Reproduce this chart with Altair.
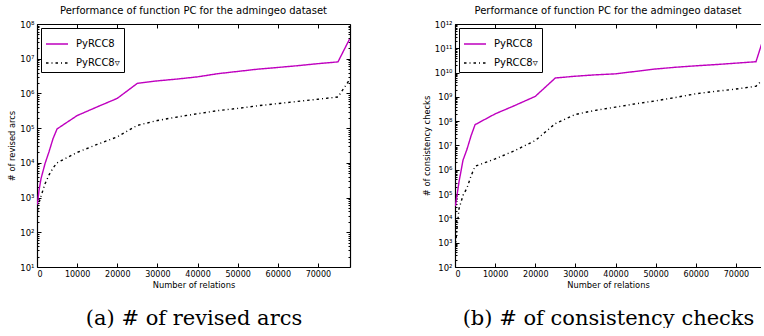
import altair as alt
import pandas as pd

# Number of relations at which function PC was measured
relations = [100, 500, 1000, 2000, 3000, 4000, 5000, 10000, 15000, 20000, 25000,
             30000, 35000, 40000, 45000, 50000, 55000, 60000, 65000, 70000, 75000, 77900]

# Revised arcs
arcs_pyrcc8 = [630, 1600, 3500, 9500, 21000, 50000, 95000, 230000, 410000, 720000,
               1950000, 2300000, 2600000, 3000000, 3700000, 4300000, 5000000,
               5600000, 6300000, 7200000, 8100000, 37000000]
arcs_nabla = [400, 710, 1100, 2500, 4500, 7100, 10000, 20000, 34000, 56000, 120000,
              166000, 210000, 260000, 320000, 370000, 440000, 510000, 590000,
              680000, 790000, 2500000]

# Consistency checks
checks_pyrcc8 = [32000, 89000, 320000, 2500000, 7100000, 25000000, 72000000, 2.0e8,
                 4.5e8, 1.05e9, 6.0e9, 7.1e9, 8.1e9, 8.9e9, 1.12e10, 1.41e10, 1.66e10,
                 1.9e10, 2.14e10, 2.45e10, 2.8e10, 8.9e11]
checks_nabla = [630, 4000, 25000, 89000, 180000, 560000, 1400000, 2800000, 6300000,
                1.6e7, 8.0e7, 1.9e8, 2.8e8, 3.8e8, 5.2e8, 6.9e8, 9.5e8, 1.35e9, 1.7e9,
                2.1e9, 2.75e9, 7.9e9]

series_names = ["PyRCC8", "PyRCC8\u25bf"]
series_colors = ["#bf00bf", "black"]
series_dashes = [[1, 0], [2.5, 3, 1, 3]]

TITLE = "Performance of function PC for the admingeo dataset"
SANS = "DejaVu Sans"
SERIF = "DejaVu Serif"

SUP = "['\u2070','\u00b9','\u00b2','\u00b3','\u2074','\u2075','\u2076','\u2077','\u2078','\u2079','\u00b9\u2070','\u00b9\u00b9','\u00b9\u00b2']"
LABEL_EXPR = "'10' + " + SUP + "[round(log(datum.value) / LN10)]"


def tick_axis(orient, values, size):
    # inward-pointing ticks: axis pulled inside the frame by the tick length
    return alt.Axis(orient=orient, values=values, labels=False, domain=False,
                    ticks=True, tickSize=size, tickColor="black", tickWidth=1,
                    offset=-size, title=None, grid=False)


def frame_axis(orient):
    return alt.Axis(orient=orient, labels=False, ticks=False, domain=True,
                    domainColor="black", domainWidth=1.2, title=None, grid=False)


def panel(values_a, values_b, e_min, e_max, y_title, caption, x_max, width, right_side):
    n = len(relations)
    df = pd.DataFrame({
        "relations": relations * 2,
        "count": values_a + values_b,
        "series": [series_names[0]] * n + [series_names[1]] * n,
    })
    xs = alt.Scale(domain=[0, x_max], nice=False, zero=False)
    ys = alt.Scale(type="log", domain=[10 ** e_min, 10 ** e_max], nice=False)
    decades = [10 ** k for k in range(e_min, e_max + 1)]
    minors = [m * 10 ** k for k in range(e_min, e_max) for m in range(2, 10)]
    xticks = [v for v in range(0, 80000, 10000) if v <= x_max]

    base = alt.Chart(df)

    def X(axis):
        return alt.X("relations:Q", scale=xs, axis=axis)

    def Y(axis):
        return alt.Y("count:Q", scale=ys, axis=axis)

    legend = alt.Legend(title=None, orient="top-left", offset=4, fillColor="white",
                        strokeColor="black", padding=4, cornerRadius=0,
                        labelFont=SANS, labelFontSize=10, labelColor="black",
                        symbolType="stroke", symbolSize=484, symbolStrokeWidth=1.5,
                        labelOffset=7, rowPadding=2)

    lines = base.mark_line(clip=True, strokeWidth=1.4).encode(
        x=X(alt.Axis(values=xticks, format="d", title="Number of relations",
                     domain=True, domainColor="black", domainWidth=1.2, ticks=False,
                     labelPadding=3, titlePadding=2, grid=False)),
        y=Y(alt.Axis(values=decades, labelExpr=LABEL_EXPR, title=y_title,
                     labelFontSize=8.5, domain=True, domainColor="black",
                     domainWidth=1.2, ticks=False, labelPadding=3, titlePadding=3,
                     grid=False)),
        color=alt.Color("series:N", scale=alt.Scale(domain=series_names, range=series_colors),
                        legend=legend),
        strokeDash=alt.StrokeDash("series:N", scale=alt.Scale(domain=series_names, range=series_dashes),
                                  legend=legend),
    )

    ghost = base.mark_line(clip=True, opacity=0)
    layers = [
        lines,
        ghost.encode(x=X(frame_axis("top")),
                     y=Y(frame_axis("right") if right_side else None)),
        ghost.encode(x=X(tick_axis("top", xticks, 4)),
                     y=Y(tick_axis("right", decades, 4) if right_side else None)),
        ghost.encode(x=X(tick_axis("bottom", xticks, 4)),
                     y=Y(tick_axis("left", decades, 4))),
        ghost.encode(x=X(alt.Axis(orient="bottom", labels=False, ticks=False, domain=False,
                                  grid=False, title=caption, titleFont=SERIF,
                                  titleFontSize=21, titleFontWeight="normal",
                                  titlePadding=40)),
                     y=Y(tick_axis("left", minors, 2))),
    ]
    if right_side:
        layers.append(ghost.encode(x=X(None), y=Y(tick_axis("right", minors, 2))))

    return alt.layer(*layers).resolve_axis(x="independent", y="independent").properties(
        width=width, height=243,
        title=alt.TitleParams(TITLE, font=SANS, fontSize=10, fontWeight="normal",
                              color="black", anchor="middle", offset=4),
    )


left = panel(arcs_pyrcc8, arcs_nabla, 1, 8, "# of revised arcs",
             "(a) # of revised arcs", 78000, 313, True)
right = panel(checks_pyrcc8, checks_nabla, 2, 12, "# of consistency checks",
              "(b) # of consistency checks", 76250, 306, False)

chart = alt.hconcat(left, right, spacing=71).resolve_scale(
    color="independent", strokeDash="independent"
).resolve_legend(
    color="independent", strokeDash="independent"
).properties(
    padding={"left": 7, "top": 6, "right": 0, "bottom": 0}
).configure_view(stroke=None).configure_axis(
    labelFont=SANS, labelFontSize=8, labelColor="black",
    titleFont=SANS, titleFontSize=8.3, titleFontWeight="normal", titleColor="black",
)

chart.save("out.html", embed_options={"renderer": "svg", "actions": False})
